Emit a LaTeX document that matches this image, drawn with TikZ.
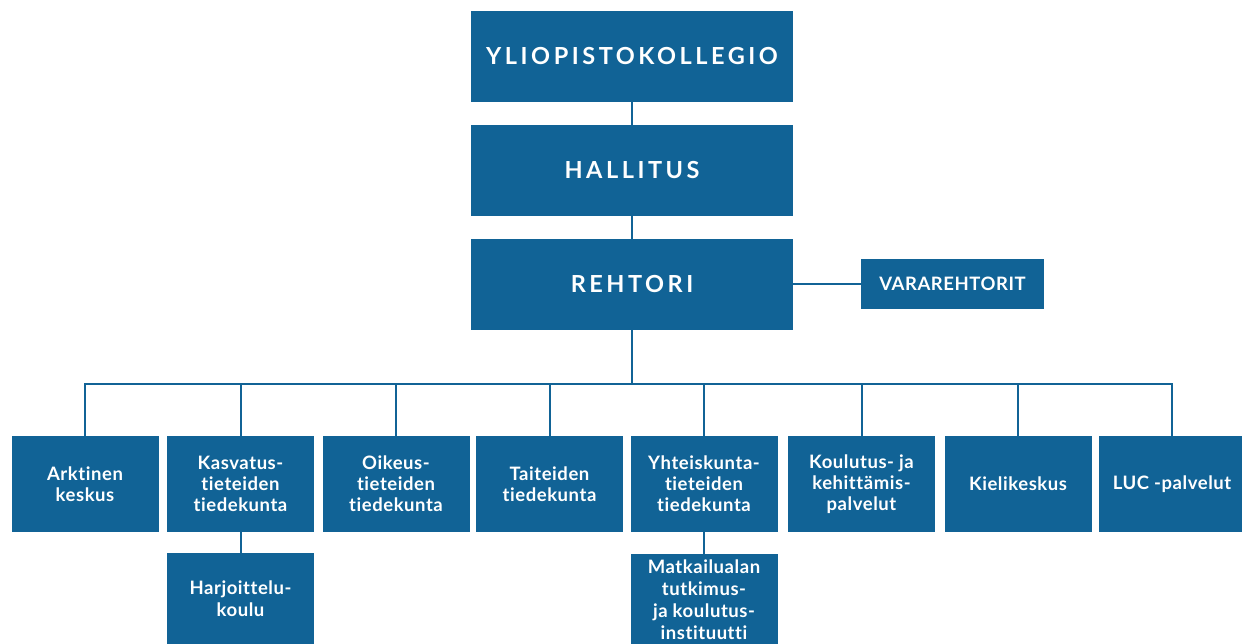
\documentclass[tikz,border=0pt]{standalone}
\usepackage{fontspec}
\setmainfont{Lato}
\newfontfamily\spacedfont[LetterSpace=15]{Lato}
\newfontfamily\sidefont[LetterSpace=3]{Lato}
\newfontfamily\unitfont[LetterSpace=3,Ligatures=NoCommon]{Lato}
\usetikzlibrary{positioning}
\definecolor{lucblue}{RGB}{17,99,150}
\tikzset{
  orgnode/.style = {align=center, inner sep=0pt, text centered,
    fill=lucblue, text=white, font=\bfseries},
  org_top/.style = {orgnode, minimum width=322pt, minimum height=91pt,
    font=\spacedfont\bfseries\fontsize{23.5}{28}\selectfont},% ylataso
  org_side/.style = {orgnode, minimum width=183pt, minimum height=50pt,
    font=\sidefont\bfseries\fontsize{18.5}{20}\selectfont},% sivulaatikko
  org_unit/.style = {orgnode, minimum width=147pt, minimum height=96pt,
    font=\unitfont\bfseries\fontsize{18.5}{21}\selectfont},% yksikko
  org_sub/.style = {org_unit, minimum height=91pt,
    font=\unitfont\bfseries\fontsize{18.5}{22}\selectfont},% aliyksikko
  link/.style = {draw=lucblue, line width=2pt}
}
\begin{document}
\begin{tikzpicture}[x=1pt,y=-1pt]
\useasboundingbox (0,0) rectangle (1242,644);
\node [org_top] (K) at (632,56.5) {YLIOPISTOKOLLEGIO};
\node [org_top] (H) at (632,170.5) {HALLITUS};
\node [org_top] (R) at (632,284.5) {REHTORI};
\node [org_side] (V) at (952.5,284) {VARAREHTORIT};
\coordinate (bus) at (632,384);
\node [org_unit] (U1) at (85,484) {Arktinen\\keskus};
\node [org_unit] (U2) at (240.5,484) {Kasvatus-\\tieteiden\\tiedekunta};
\node [org_unit] (U3) at (396,484) {Oikeus-\\tieteiden\\tiedekunta};
\node [org_unit] (U4) at (549.5,484) {Taiteiden\\tiedekunta};
\node [org_unit] (U5) at (704,484) {Yhteiskunta-\\tieteiden\\tiedekunta};
\node [org_unit] (U6) at (861.5,484) {Koulutus- ja\\kehittämis-\\palvelut};
\node [org_unit] (U7) at (1018,484) {Kielikeskus};
\node [org_unit] (U8) at (1172,484) {LUC -palvelut};
\node [org_sub] (S2) at (240.5,598.5) {Harjoittelu-\\koulu};
\node [org_sub] (S5) at (704,599.5) {Matkailualan\\tutkimus-\\ja koulutus-\\instituutti};
% yhteydet
\draw [link] (K) -- (H);
\draw [link] (H) -- (R);
\draw [link] (R.east |- V) -- (V);
\draw [link] (R) -- (bus);
\draw [link] (U1) -- (U1 |- bus) -- (U8 |- bus) -- (U8);
\foreach \u in {U2,U3,U4,U5,U6,U7}
  \draw [link] (\u) -- (\u |- bus);
\draw [link] (U2) -- (S2);
\draw [link] (U5) -- (S5);
\end{tikzpicture}
\end{document}
